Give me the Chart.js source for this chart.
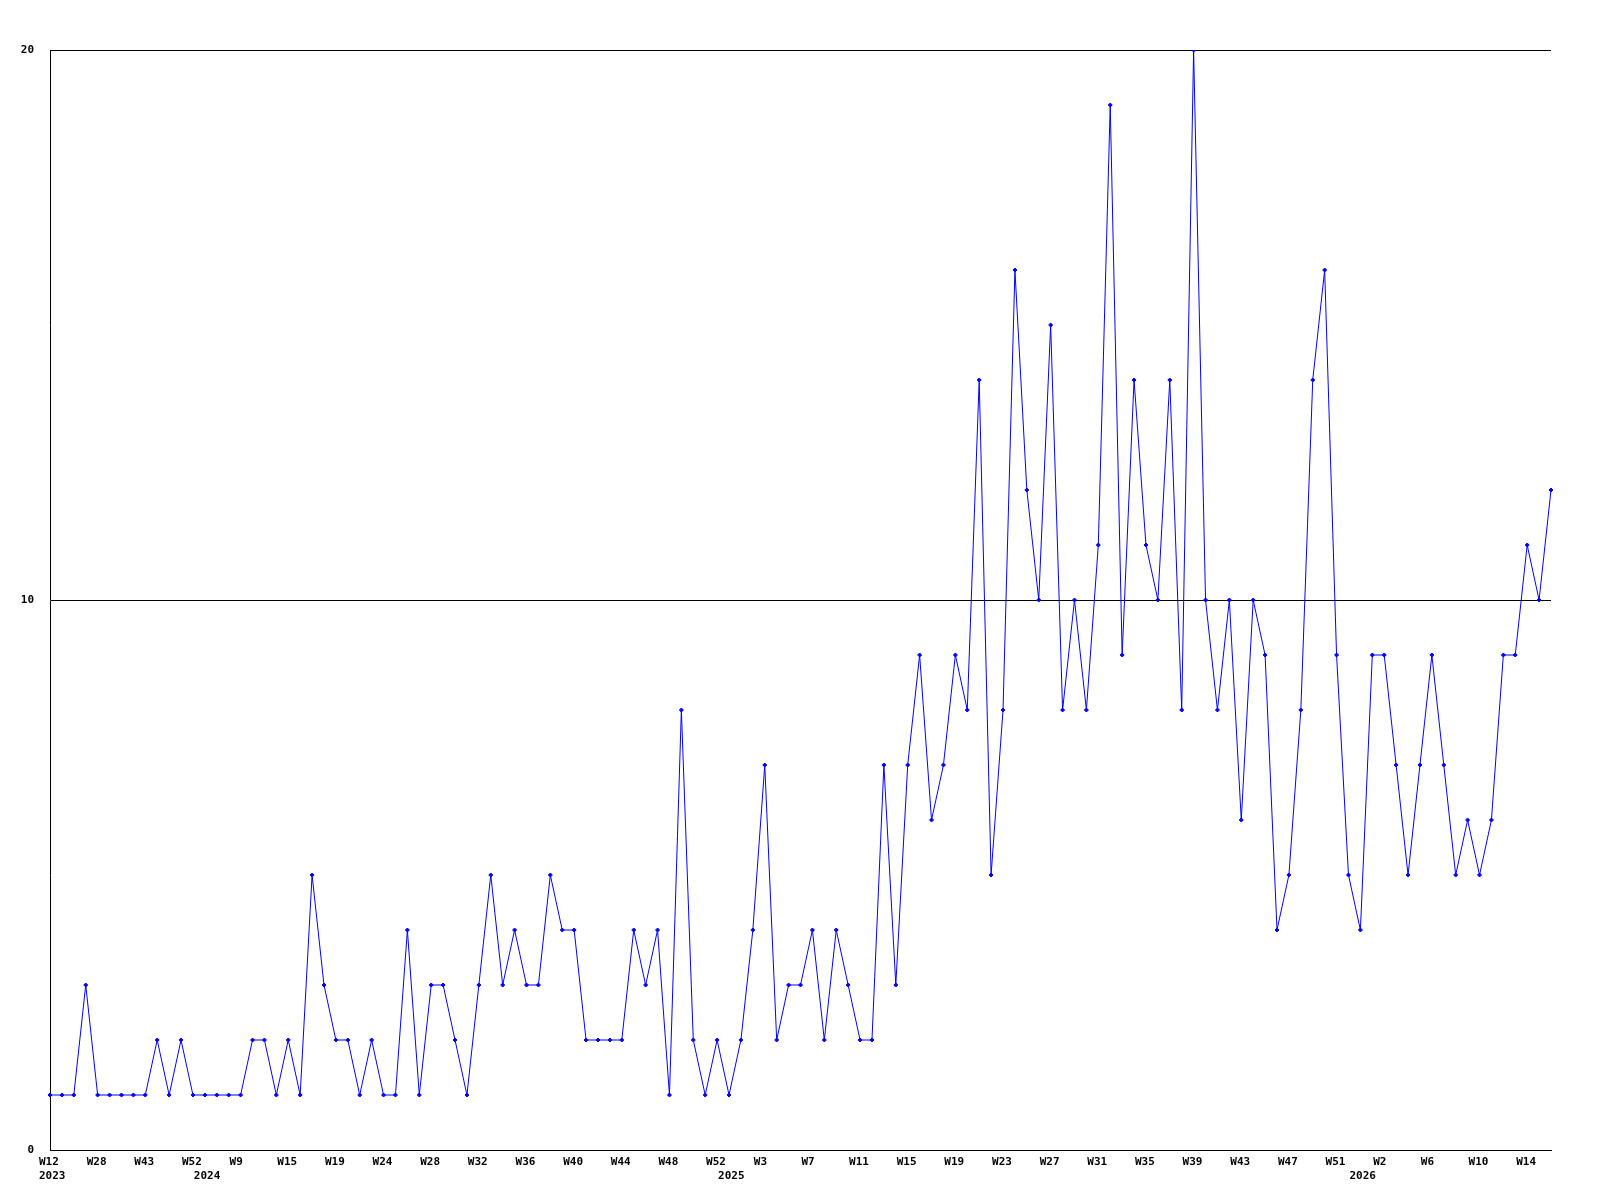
<!DOCTYPE html>
<html>
<head>
<meta charset="utf-8">
<script src="https://cdn.jsdelivr.net/npm/chart.js@4"></script>
<style>
  body { margin: 0; background: #fff; }
  canvas { display: block; }
</style>
</head>
<body>
<canvas id="chart" width="1600" height="1200"></canvas>
<script>
// weekly counts, one per point (127 points)
const counts = [
    1, 1, 1, 3, 1, 1, 1, 1, 1, 2,
    1, 2, 1, 1, 1, 1, 1, 2, 2, 1,
    2, 1, 5, 3, 2, 2, 1, 2, 1, 1,
    4, 1, 3, 3, 2, 1, 3, 5, 3, 4,
    3, 3, 5, 4, 4, 2, 2, 2, 2, 4,
    3, 4, 1, 8, 2, 1, 2, 1, 2, 4,
    7, 2, 3, 3, 4, 2, 4, 3, 2, 2,
    7, 3, 7, 9, 6, 7, 9, 8, 14, 5,
    8, 16, 12, 10, 15, 8, 10, 8, 11, 19,
    9, 14, 11, 10, 14, 8, 20, 10, 8, 10,
    6, 10, 9, 4, 5, 8, 14, 16, 9, 5,
    4, 9, 9, 7, 5, 7, 9, 7, 5, 6,
    5, 6, 9, 9, 11, 10, 12
];

// week labels, shown on every 4th point
const weekTicks = [
    'W12', 'W28', 'W43', 'W52', 'W9', 'W15', 'W19', 'W24', 'W28', 'W32',
    'W36', 'W40', 'W44', 'W48', 'W52', 'W3', 'W7', 'W11', 'W15', 'W19',
    'W23', 'W27', 'W31', 'W35', 'W39', 'W43', 'W47', 'W51', 'W2', 'W6',
    'W10', 'W14'
];

// year labels and the point index they sit under
const yearTicks = ['2023', '2024', '2025', '2026'];
const yearIndex = [0, 13, 57, 110];

const tickFont = {
    family: 'DejaVu Sans Mono',
    size: 11,
    weight: 'bold',
    lineHeight: 1.2
};

function buildLabels() {
    const labels = [];
    for (let i = 0; i < counts.length; i++) {
        let week = '';
        if (i % 4 === 0 && weekTicks[i / 4] !== undefined) {
            week = weekTicks[i / 4];
        }
        const y = yearIndex.indexOf(i);
        if (y >= 0) {
            labels.push([week, yearTicks[y]]);
        } else {
            labels.push(week);
        }
    }
    return labels;
}

function weeklyChart() {
    const data = {
        labels: buildLabels(),
        datasets: [{
            data: counts,
            fill: false,
            borderColor: '#0000ff',
            backgroundColor: '#0000ff',
            borderWidth: 1,
            pointStyle: 'rectRot',
            pointRadius: 2,
            pointBorderWidth: 1,
            tension: 0
        }]
    };

    const config = {
        type: 'line',
        data: data,
        options: {
            responsive: false,
            animation: false,
            devicePixelRatio: 1,
            layout: {
                padding: { top: 50, right: 49, left: 0, bottom: 0 }
            },
            plugins: {
                legend: { display: false },
                tooltip: { enabled: false }
            },
            scales: {
                x: {
                    type: 'category',
                    offset: false,
                    grid: { display: false, drawTicks: false },
                    border: { color: '#000', width: 1 },
                    ticks: {
                        autoSkip: false,
                        maxRotation: 0,
                        minRotation: 0,
                        // labels start a little left of their point
                        align: 'start',
                        labelOffset: -11,
                        padding: 6,
                        color: '#000',
                        font: tickFont
                    },
                    afterFit: function (scale) {
                        scale.height = 50;
                    }
                },
                y: {
                    min: 0,
                    max: 20,
                    grid: { color: '#000', lineWidth: 1, drawTicks: false },
                    border: { color: '#000', width: 1 },
                    ticks: {
                        stepSize: 10,
                        padding: 16,
                        color: '#000',
                        font: tickFont
                    },
                    afterFit: function (scale) {
                        scale.width = 50;
                    }
                }
            }
        }
    };

    const ctx = document.getElementById('chart').getContext('2d');
    new Chart(ctx, config);
}

weeklyChart();
</script>
</body>
</html>
